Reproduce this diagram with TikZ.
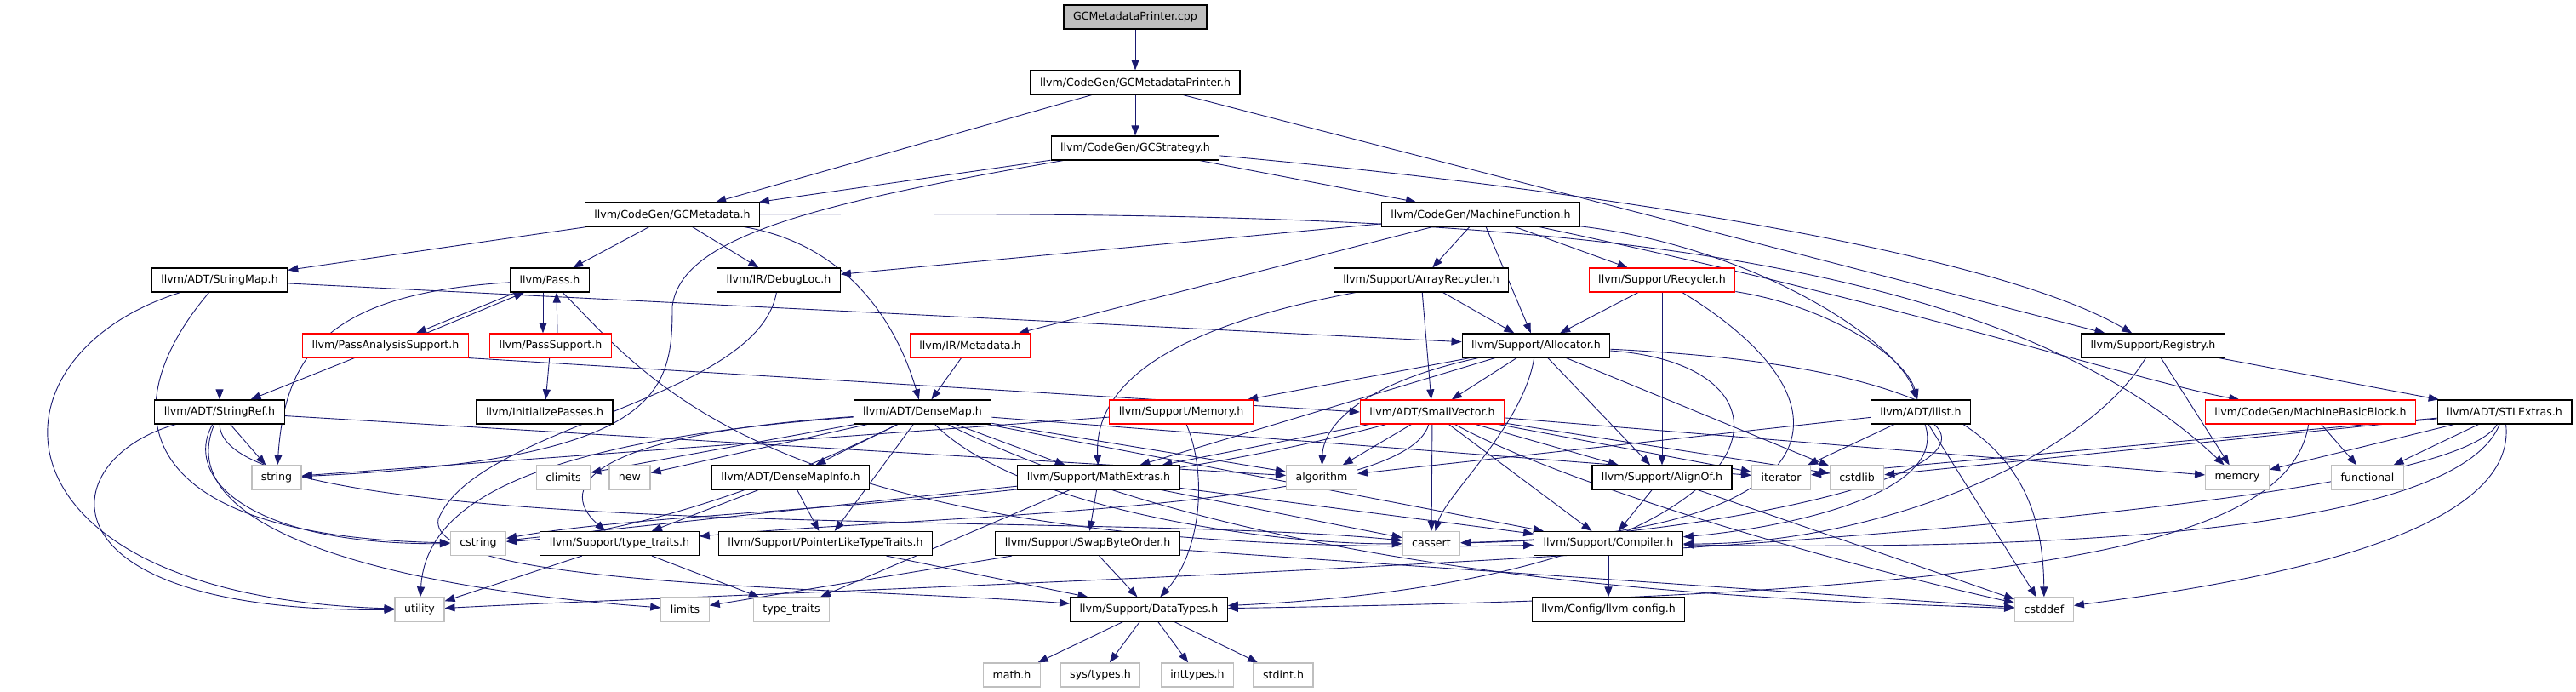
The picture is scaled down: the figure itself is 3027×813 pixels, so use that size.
\documentclass[tikz,border=0pt]{standalone}
\usepackage{fontspec}
\setmainfont{DejaVu Sans}
\usepackage{xcolor}
\usetikzlibrary{arrows.meta, backgrounds}

\definecolor{edgeblue}{RGB}{25,25,112}
\definecolor{truncred}{RGB}{255,0,0}
\definecolor{sysgray}{RGB}{191,191,191}
\definecolor{srcgray}{RGB}{191,191,191}

\begin{document}
\begin{tikzpicture}[
    x=1pt, y=-1pt,
    every node/.style={font=\fontsize{12.6}{15}\selectfont, inner xsep=11pt, inner ysep=0pt, minimum height=28pt},
    hdr/.style={rectangle, draw=black, fill=white, line width=1.2pt},
    trunc/.style={rectangle, draw=truncred, fill=white, line width=1.2pt},
    sysh/.style={rectangle, draw=sysgray, fill=white, line width=1.2pt},
    src/.style={rectangle, draw=black, fill=srcgray, line width=1.2pt},
    arr/.style={-{Triangle[length=12pt, width=9pt]}, edgeblue, line width=0.9pt},
  ]
    \useasboundingbox (0,0) rectangle (3027,813);
    \def\yA{20}\def\yB{97}\def\yC{174}\def\yD{252}\def\yE{329}\def\yF{406}
    \def\yG{484}\def\yH{561}\def\yI{638.5}\def\yJ{716}\def\yK{793}
    \node[src] (cpp) at (1334,\yA) {GCMetadataPrinter.cpp};
    \node[hdr] (gcmp) at (1334,\yB) {llvm/CodeGen/GCMetadataPrinter.h};
    \node[hdr] (gcs) at (1334,\yC) {llvm/CodeGen/GCStrategy.h};
    \node[hdr] (gcm) at (790,\yD) {llvm/CodeGen/GCMetadata.h};
    \node[hdr] (mf) at (1740,\yD) {llvm/CodeGen/MachineFunction.h};
    \node[hdr] (smap) at (258,\yE) {llvm/ADT/StringMap.h};
    \node[hdr] (pass) at (646,\yE) {llvm/Pass.h};
    \node[hdr] (dloc) at (915,\yE) {llvm/IR/DebugLoc.h};
    \node[hdr] (arec) at (1670,\yE) {llvm/Support/ArrayRecycler.h};
    \node[trunc] (rec) at (1953,\yE) {llvm/Support/Recycler.h};
    \node[trunc] (pas) at (453,\yF) {llvm/PassAnalysisSupport.h};
    \node[trunc] (psup) at (647,\yF) {llvm/PassSupport.h};
    \node[trunc] (meta) at (1140,\yF) {llvm/IR/Metadata.h};
    \node[hdr] (alloc) at (1805,\yF) {llvm/Support/Allocator.h};
    \node[hdr] (reg) at (2530,\yF) {llvm/Support/Registry.h};
    \node[hdr] (sref) at (258,\yG) {llvm/ADT/StringRef.h};
    \node[hdr] (initp) at (640,\yG) {llvm/InitializePasses.h};
    \node[hdr] (dmap) at (1084,\yG) {llvm/ADT/DenseMap.h};
    \node[trunc] (mem) at (1388,\yG) {llvm/Support/Memory.h};
    \node[trunc] (svec) at (1683,\yG) {llvm/ADT/SmallVector.h};
    \node[hdr] (ilist) at (2257,\yG) {llvm/ADT/ilist.h};
    \node[trunc] (mbb) at (2715,\yG) {llvm/CodeGen/MachineBasicBlock.h};
    \node[hdr] (stl) at (2943,\yG) {llvm/ADT/STLExtras.h};
    \node[sysh] (string) at (325,\yH) {string};
    \node[sysh] (climits) at (662,\yH) {climits};
    \node[sysh] (new) at (740,\yH) {new};
    \node[hdr] (dmi) at (929,\yH) {llvm/ADT/DenseMapInfo.h};
    \node[hdr] (mathx) at (1291,\yH) {llvm/Support/MathExtras.h};
    \node[sysh] (algorithm) at (1553,\yH) {algorithm};
    \node[hdr] (alignof) at (1953,\yH) {llvm/Support/AlignOf.h};
    \node[sysh] (iterator) at (2093,\yH) {iterator};
    \node[sysh] (cstdlib) at (2182,\yH) {cstdlib};
    \node[sysh] (memory) at (2629,\yH) {memory};
    \node[sysh] (functional) at (2782,\yH) {functional};
    \node[sysh] (cstring) at (562,\yI) {cstring};
    \node[hdr] (ttr) at (728,\yI) {llvm/Support/type\_traits.h};
    \node[hdr] (pltt) at (970,\yI) {llvm/Support/PointerLikeTypeTraits.h};
    \node[hdr] (sbo) at (1278,\yI) {llvm/Support/SwapByteOrder.h};
    \node[sysh] (cassert) at (1682,\yI) {cassert};
    \node[hdr] (compiler) at (1890,\yI) {llvm/Support/Compiler.h};
    \node[sysh] (utility) at (493,\yJ) {utility};
    \node[sysh] (limits) at (805,\yJ) {limits};
    \node[sysh] (typetraits) at (930,\yJ) {type\_traits};
    \node[hdr] (dtypes) at (1350,\yJ) {llvm/Support/DataTypes.h};
    \node[hdr] (llvmcfg) at (1890,\yJ) {llvm/Config/llvm-config.h};
    \node[sysh] (cstddef) at (2402,\yJ) {cstddef};
    \node[sysh] (mathh) at (1189,\yK) {math.h};
    \node[sysh] (systypes) at (1293,\yK) {sys/types.h};
    \node[sysh] (inttypes) at (1407,\yK) {inttypes.h};
    \node[sysh] (stdint) at (1508,\yK) {stdint.h};
    \begin{scope}[on background layer]
    \foreach \a/\b in {cpp/gcmp, gcmp/gcs, gcmp/gcm, gcmp/reg, gcs/gcm, gcs/mf,
        gcm/smap, gcm/pass, gcm/dloc, mf/dloc, mf/meta, mf/arec, mf/alloc, mf/rec,
        smap/sref, smap/alloc, pas/sref, psup/initp, meta/dmap, arec/svec, arec/alloc,
        rec/alloc, rec/alignof, alloc/svec, alloc/alignof, alloc/mathx, alloc/mem, alloc/cstdlib,
        reg/stl, reg/memory, sref/string, sref/algorithm,
        dmap/dmi, dmap/pltt, dmap/mathx, dmap/algorithm, dmap/climits, dmap/new, dmap/compiler, dmap/iterator,
        mem/string, svec/alignof, svec/compiler, svec/mathx, svec/algorithm, svec/cassert,
        svec/cstdlib, svec/iterator, svec/memory, ilist/algorithm, ilist/cstddef, ilist/iterator,
        mbb/functional, stl/iterator, stl/cstdlib, stl/memory, stl/functional, dmi/pltt, dmi/ttr,
        mathx/sbo, mathx/compiler, mathx/cassert, mathx/cstring, mathx/typetraits,
        ttr/utility, ttr/typetraits, pltt/dtypes, sbo/dtypes, sbo/cstddef, sbo/limits,
        alignof/compiler, alignof/cstddef, compiler/llvmcfg,
        dtypes/mathh, dtypes/systypes, dtypes/inttypes, dtypes/stdint}
      \draw[arr] (\a) -- (\b);
    \draw[arr] (gcs) .. controls (1900,225) and (2350,300) .. (reg);
    \draw[arr] (gcs) .. controls (950,240) and (800,280) .. (790,360) .. controls (790,460) and (780,540) .. (string);
    \draw[arr] (gcm) .. controls (1010,290) and (1060,400) .. (dmap);
    \draw[arr] (gcm) .. controls (1600,250) and (2300,250) .. (memory);
    \draw[arr] (mf) .. controls (2060,290) and (2230,400) .. (ilist);
    \draw[arr] (mf) .. controls (2250,360) and (2520,450) .. (mbb);
    \draw[arr] (smap) .. controls (-30,420) and (-20,700) .. (utility);
    \draw[arr] (smap) .. controls (130,480) and (150,630) .. (cstring);
    \draw[arr] (sref) .. controls (60,540) and (40,720) .. (utility);
    \draw[arr] (sref) .. controls (215,560) and (290,640) .. (cstring);
    \draw[arr] (sref) .. controls (200,620) and (450,690) .. (limits);
    \draw[arr] (sref) .. controls (260,640) and (1300,600) .. (cassert);
    \draw[arr] (pass) .. controls (380,345) and (335,420) .. (string);
    \draw[arr] (pass) .. controls (760,440) and (900,660) .. (compiler);
    \draw[arr] ([xshift=-8pt]pass.south) -- ([xshift=-9pt]psup.north);
    \draw[arr] ([xshift=8pt]psup.north) -- ([xshift=8pt]pass.south);
    \draw[arr] ([xshift=-40pt]pass.south) -- ([xshift=36pt]pas.north);
    \draw[arr] ([xshift=48pt]pas.north) -- ([xshift=-30pt]pass.south);
    \draw[arr] (pas.south east) -- (svec.west);
    \draw[arr] (dloc) .. controls (890,470) and (560,500) .. (515,610) .. controls (500,690) and (1000,690) .. (dtypes);
    \draw[arr] (arec) .. controls (1400,380) and (1285,440) .. (mathx);
    \draw[arr] (rec) .. controls (2150,360) and (2240,420) .. (ilist);
    \draw[arr] (rec) .. controls (2200,480) and (2150,630) .. (cassert);
    \draw[arr] (alloc) .. controls (1790,500) and (1700,580) .. (cassert);
    \draw[arr] (alloc) .. controls (1600,450) and (1555,500) .. (algorithm);
    \draw[arr] (alloc) .. controls (2300,430) and (2400,520) .. (cstddef);
    \draw[arr] (alloc) .. controls (2150,430) and (2100,680) .. (dtypes);
    \draw[arr] (mem) .. controls (1420,560) and (1410,650) .. (dtypes);
    \draw[arr] (dmap) .. controls (600,520) and (500,600) .. (utility);
    \draw[arr] (dmap) .. controls (700,510) and (650,570) .. (ttr);
    \draw[arr] (dmap) .. controls (850,600) and (700,630) .. (cstring);
    \draw[arr] (dmap) .. controls (1200,600) and (1500,640) .. (cassert);
    \draw[arr] (dmap) .. controls (1500,690) and (2100,705) .. (cstddef);
    \draw[arr] (svec) .. controls (1650,600) and (1100,605) .. (ttr);
    \draw[arr] (svec) .. controls (1250,600) and (800,595) .. (cstring);
    \draw[arr] (svec) .. controls (1840,570) and (2150,660) .. (cstddef);
    \draw[arr] (ilist) .. controls (2290,580) and (2100,620) .. (compiler);
    \draw[arr] (ilist) .. controls (2340,560) and (2000,630) .. (cassert);
    \draw[arr] (mbb) .. controls (2690,640) and (2400,700) .. (dtypes);
    \draw[arr] (stl) .. controls (2850,640) and (1000,690) .. (utility);
    \draw[arr] (stl) .. controls (2880,640) and (2300,645) .. (compiler);
    \draw[arr] (stl) .. controls (2960,640) and (2600,690) .. (cstddef);
    \draw[arr] (reg) .. controls (2450,540) and (2200,640) .. (compiler);
    \end{scope}
  \end{tikzpicture}
\end{document}
